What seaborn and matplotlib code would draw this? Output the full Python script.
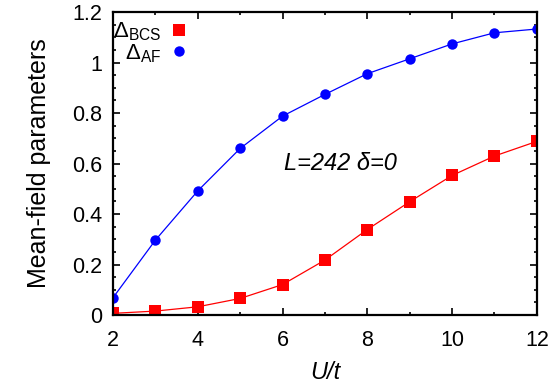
import pandas as pd
import numpy as np
import matplotlib
matplotlib.use("Agg")
import matplotlib.pyplot as plt
import seaborn as sns
from matplotlib.lines import Line2D
from matplotlib.ticker import MultipleLocator, FuncFormatter

sns.set_style("ticks")
plt.rcParams["font.family"] = ["Liberation Sans", "DejaVu Sans"]
plt.rcParams["mathtext.fontset"] = "custom"
plt.rcParams["mathtext.rm"] = "Liberation Sans"
plt.rcParams["mathtext.it"] = "Liberation Sans:italic"
for k in ["text.color", "axes.labelcolor", "xtick.color", "ytick.color", "axes.edgecolor"]:
    plt.rcParams[k] = "black"

# === datos ===
u_t = [2, 3, 4, 5, 6, 7, 8, 9, 10, 11, 12]
delta_bcs = [0.007, 0.016, 0.033, 0.066, 0.121, 0.218, 0.339, 0.449, 0.553, 0.630, 0.688]
delta_af = [0.069, 0.297, 0.492, 0.660, 0.788, 0.874, 0.956, 1.015, 1.074, 1.118, 1.133]

df = pd.DataFrame({
    "U/t": u_t * 2,
    "valor": delta_bcs + delta_af,
    "param": ["BCS"] * len(u_t) + ["AF"] * len(u_t),
})

colores = {"BCS": "#ff0000", "AF": "#0000ff"}
marcas = {"BCS": "s", "AF": "o"}
tam = {"BCS": 8.5, "AF": 7.5}

fig = plt.figure(figsize=(5.54, 3.90), dpi=100)
ax = fig.add_axes([0.204, 0.192, 0.765, 0.777])

for p in ["BCS", "AF"]:
    sns.lineplot(data=df[df["param"] == p], x="U/t", y="valor", ax=ax,
                 color=colores[p], marker=marcas[p], markersize=tam[p],
                 markeredgewidth=0, linewidth=0.9, legend=False)

ax.set_xlim(2, 12)
ax.set_ylim(0, 1.2)
ax.xaxis.set_major_locator(MultipleLocator(2))
ax.xaxis.set_minor_locator(MultipleLocator(1))
ax.yaxis.set_major_locator(MultipleLocator(0.2))
ax.yaxis.set_minor_locator(MultipleLocator(0.05))
ax.yaxis.set_major_formatter(FuncFormatter(lambda v, pos: "%g" % round(v, 2)))
ax.tick_params(which="both", direction="in", top=True, right=True, labelsize=15.5)
ax.tick_params(axis="x", which="major", pad=11)
ax.tick_params(axis="y", which="major", pad=8)
ax.tick_params(which="major", length=5, width=1.2)
ax.tick_params(which="minor", length=2.5, width=1.2)
for s in ax.spines.values():
    s.set_linewidth(1.6)

ax.set_xlabel("U/t", fontsize=17, style="italic", labelpad=7)
ax.set_ylabel("Mean-field parameters", fontsize=18, labelpad=15)

ax.text(6.03, 0.60, "L=242 δ=0", fontsize=17, style="italic", ha="left", va="center")

handles = [
    Line2D([], [], color=colores["BCS"], marker="s", linestyle="none", markersize=tam["BCS"], markeredgewidth=0),
    Line2D([], [], color=colores["AF"], marker="o", linestyle="none", markersize=tam["AF"], markeredgewidth=0),
]
ax.legend(handles, [r"$\Delta_{\mathrm{BCS}}$", r"$\Delta_{\mathrm{AF}}$"],
          loc="upper right", frameon=False, markerfirst=False, fontsize=16,
          handlelength=0.8, handletextpad=0.4, labelspacing=-0.05,
          borderaxespad=0.0, borderpad=0.0, bbox_to_anchor=(0.177, 0.972))

fig.savefig("out.png", dpi=100)
